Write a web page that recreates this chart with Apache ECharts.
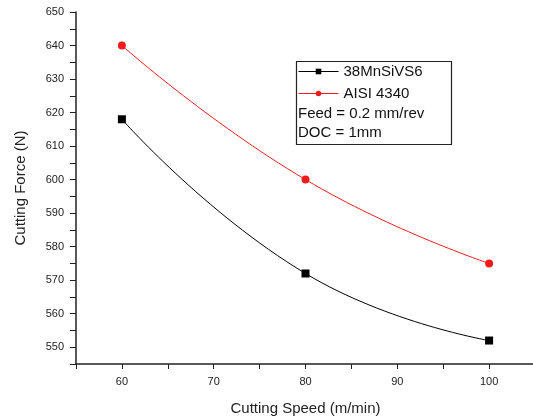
<!DOCTYPE html>
<html>
<head>
<meta charset="utf-8">
<script src="https://cdn.jsdelivr.net/npm/echarts@6/dist/echarts.min.js"></script>
<style>
  html, body { margin: 0; padding: 0; background: #fff; }
  #chart { width: 533px; height: 418px; }
</style>
</head>
<body>
<div id="chart"></div>
<script>
// cutting speed (m/min)
const speeds = [60, 80, 100]
// cutting force (N)
const mnSiVS6 = [618, 572, 552]
const aisi4340 = [640, 600, 575]
const notes = ['Feed = 0.2 mm/rev', 'DOC = 1mm']

const font = 'Liberation Sans, Arial, sans-serif'

const chart = echarts.init(document.getElementById('chart'))
chart.setOption({
  animation: false,
  grid: { left: 76, right: -2, top: 12, bottom: 54, outerBoundsMode: 'none', containLabel: false },
  xAxis: {
    type: 'value',
    min: 55,
    max: 105,
    interval: 5,
    name: 'Cutting Speed (m/min)',
    nameLocation: 'middle',
    nameGap: 37,
    nameTextStyle: { fontFamily: font, fontSize: 15, color: '#222' },
    axisLine: { lineStyle: { color: '#222', width: 1.5 } },
    axisTick: { inside: false, length: 5, lineStyle: { color: '#222' } },
    axisLabel: {
      margin: 12,
      fontFamily: font,
      fontSize: 11,
      color: '#222',
      formatter: v => (v % 10 === 0 ? String(v) : '')
    },
    splitLine: { show: false }
  },
  yAxis: {
    type: 'value',
    min: 545,
    max: 650,
    interval: 5,
    name: 'Cutting Force (N)',
    nameLocation: 'middle',
    nameGap: 48,
    nameTextStyle: { fontFamily: font, fontSize: 15, color: '#222' },
    axisLine: { show: true, lineStyle: { color: '#222', width: 1.5 } },
    axisTick: { show: true, length: 6, lineStyle: { color: '#222' } },
    axisLabel: {
      margin: 12,
      fontFamily: font,
      fontSize: 11,
      color: '#222',
      formatter: v => (v % 10 === 0 ? String(v) : '')
    },
    splitLine: { show: false }
  },
  legend: {
    orient: 'vertical',
    left: 298,
    top: 64,
    itemWidth: 40,
    itemHeight: 7,
    itemGap: 7,
    padding: 0,
    lineStyle: { width: 1 },
    textStyle: { fontFamily: font, fontSize: 15, color: '#111' },
    data: ['38MnSiVS6', 'AISI 4340']
  },
  graphic: [
    {
      type: 'rect',
      left: 294,
      top: 59,
      shape: { width: 155, height: 83 },
      style: { fill: 'none', stroke: '#222', lineWidth: 1.2 }
    },
    {
      type: 'text',
      left: 298,
      top: 106,
      style: { text: notes[0], fontFamily: font, fontSize: 15, fill: '#111' }
    },
    {
      type: 'text',
      left: 298,
      top: 125,
      style: { text: notes[1], fontFamily: font, fontSize: 15, fill: '#111' }
    }
  ],
  series: [
    {
      name: '38MnSiVS6',
      type: 'line',
      smooth: true,
      data: speeds.map((s, i) => [s, mnSiVS6[i]]),
      symbol: 'rect',
      symbolSize: 8,
      color: '#000',
      lineStyle: { width: 1, color: '#000' },
      itemStyle: { color: '#000' }
    },
    {
      name: 'AISI 4340',
      type: 'line',
      smooth: true,
      data: speeds.map((s, i) => [s, aisi4340[i]]),
      symbol: 'circle',
      symbolSize: 8,
      color: '#f01c1c',
      lineStyle: { width: 1, color: '#f01c1c' },
      itemStyle: { color: '#f01c1c' }
    }
  ]
})
</script>
</body>
</html>
